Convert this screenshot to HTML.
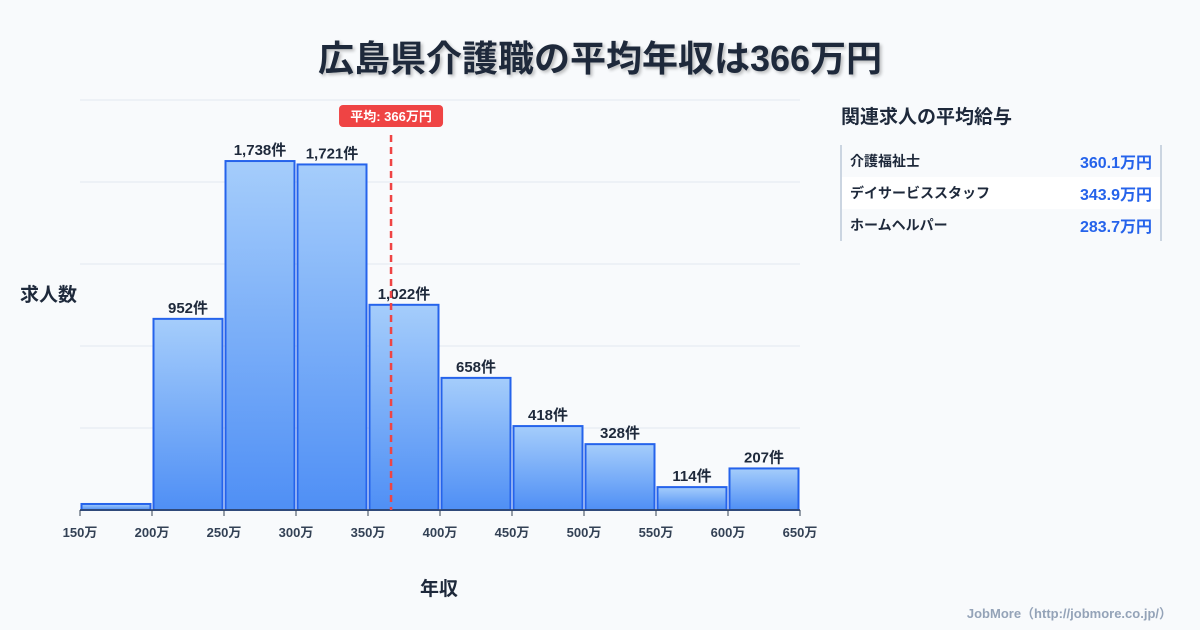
<!DOCTYPE html>
<html><head><meta charset="utf-8"><style>
body{margin:0;width:1200px;height:630px;background:#f8fafc;font-family:"Liberation Sans","Noto Sans CJK JP",sans-serif;overflow:hidden;position:relative}
.t{position:absolute}
</style></head><body>
<div class="t" style="left:0;width:1200px;top:30px;text-align:center;font-size:36px;font-weight:700;color:#1e293b;text-shadow:2px 2px 3px rgba(0,0,0,0.25)">広島県介護職の平均年収は366万円</div>
<svg class="t" style="left:0;top:0" width="1200" height="630">
<defs><linearGradient id="g" x1="0" y1="0" x2="0" y2="1"><stop offset="0" stop-color="#a5cdfb"/><stop offset="1" stop-color="#4f8ff5"/></linearGradient></defs>
<g id="grid"></g><g id="bars"></g><g id="axis"></g><g id="mean"></g>
</svg>
<div class="t" style="left:20px;top:280px;font-size:19px;font-weight:700;color:#1e293b">求人数</div>
<div class="t" style="left:420px;top:574px;font-size:19px;font-weight:700;color:#1e293b">年収</div>
<div class="t" style="left:841px;top:102px;font-size:19px;font-weight:700;color:#1e293b">関連求人の平均給与</div>
<div class="t" style="left:840px;top:145px;width:318px;border-left:2px solid #cbd5e1;border-right:2px solid #cbd5e1;font-size:14px;font-weight:700;color:#1e293b">
<div style="height:32px;display:flex;justify-content:space-between;align-items:center;padding:0 8px"><span>介護福祉士</span><span style="color:#2563eb;font-size:16px">360.1万円</span></div>
<div style="height:32px;display:flex;justify-content:space-between;align-items:center;padding:0 8px;background:#fff"><span>デイサービススタッフ</span><span style="color:#2563eb;font-size:16px">343.9万円</span></div>
<div style="height:32px;display:flex;justify-content:space-between;align-items:center;padding:0 8px"><span>ホームヘルパー</span><span style="color:#2563eb;font-size:16px">283.7万円</span></div>
</div>
<div class="t" style="right:28px;top:603px;font-size:13px;font-weight:700;color:#94a3b8">JobMore（http://jobmore.co.jp/）</div>
<script>
const binStarts=[150,200,250,300,350,400,450,500,550,600];
const counts=[30,952,1738,1721,1022,658,418,328,114,207];
const yMax=2042;
const gridCount=5;
const xTicks=[150,200,250,300,350,400,450,500,550,600,650];
const meanValue=366;
const NS="http://www.w3.org/2000/svg";
const x=v=>80+(v-150)*720/500, y=v=>510-v*410/yMax;
function mk(t,a,p){const e=document.createElementNS(NS,t);for(const k in a)e.setAttribute(k,a[k]);document.getElementById(p).appendChild(e);return e;}
for(let i=0;i<=gridCount;i++){const t=yMax*i/gridCount;const l=mk('line',{x1:80,x2:800,y1:y(t),y2:y(t),stroke:'#e2e8f0','stroke-width':1},'grid');

}
counts.forEach((c,i)=>{const x0=x(binStarts[i]),x1=x(binStarts[i]+50);
const r=mk('rect',{x:x0+1.5,y:y(c),width:x1-x0-3,height:510-y(c),fill:'url(#g)',stroke:'#2563eb','stroke-width':2},'bars');


if(c>100){const t=mk('text',{x:(x0+x1)/2,y:y(c)-6,'text-anchor':'middle','font-size':15,'font-weight':700,fill:'#1e293b'},'bars');t.textContent=c.toLocaleString('en-US')+'件';

}});
const ax=mk('line',{x1:80,x2:800,y1:510,y2:510,stroke:'#334155','stroke-width':1.5},'axis');


xTicks.forEach(v=>{mk('line',{x1:x(v),x2:x(v),y1:510,y2:516,stroke:'#334155'},'axis');
const t=mk('text',{x:x(v),y:537,'text-anchor':'middle','font-size':13,'font-weight':700,fill:'#334155'},'axis');t.textContent=v+'万';

});
const mx=x(meanValue);
const ml=mk('line',{x1:mx,x2:mx,y1:135,y2:510,stroke:'#ef4444','stroke-width':2.5,'stroke-dasharray':'7,5'},'mean');


const mb=mk('rect',{x:mx-52,y:105,width:104,height:22,rx:4,fill:'#ef4444'},'mean');


const mt=mk('text',{x:mx,y:121,'text-anchor':'middle','font-size':13,'font-weight':700,fill:'#fff'},'mean');mt.textContent='平均: '+meanValue+'万円';


</script>
</body></html>
